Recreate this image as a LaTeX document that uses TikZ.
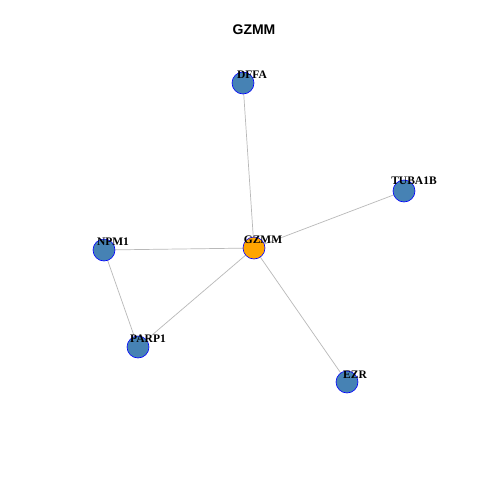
\documentclass[tikz,border=0pt]{standalone}
\usepackage{fontspec}
\setmainfont{Liberation Serif}
\newfontfamily\titlefont{Liberation Sans}
\definecolor{steel}{RGB}{70,130,180}
\definecolor{orng}{RGB}{255,165,0}
\definecolor{edgegray}{RGB}{185,185,185}
\begin{document}
\begin{tikzpicture}[x=1pt,y=-1pt,
  vert/.style={circle,draw=blue,fill=steel,minimum size=22pt,inner sep=0pt,line width=0.6pt},
  hub/.style={vert,fill=orng},
  lab/.style={font=\fontsize{11.5}{11.5}\selectfont\bfseries,inner sep=0pt},
  edge/.style={draw=edgegray,line width=0.7pt}]
\fill[white] (0,0) rectangle (480,480);
\useasboundingbox (0,0) rectangle (480,480);
\node[font=\titlefont\fontsize{14}{14}\selectfont\bfseries] (title) at (254,30) {GZMM};
\coordinate (cG) at (254,248);
\coordinate (cD) at (243,83);
\coordinate (cT) at (404,191);
\coordinate (cN) at (104,250);
\coordinate (cP) at (138,347);
\coordinate (cE) at (347,382);
\draw[edge] (cG) -- (cD);
\draw[edge] (cG) -- (cT);
\draw[edge] (cG) -- (cN);
\draw[edge] (cG) -- (cP);
\draw[edge] (cG) -- (cE);
\draw[edge] (cN) -- (cP);
\node[hub] (G) at (cG) {};
\node[vert] (D) at (cD) {};
\node[vert] (T) at (cT) {};
\node[vert] (N) at (cN) {};
\node[vert] (P) at (cP) {};
\node[vert] (E) at (cE) {};
\node[lab] (lG) at (263,240) {GZMM};
\node[lab] (lD) at (252,75) {DFFA};
\node[lab] (lT) at (414,181) {TUBA1B};
\node[lab] (lN) at (113,242) {NPM1};
\node[lab] (lP) at (148,339) {PARP1};
\node[lab] (lE) at (355,375) {EZR};
\end{tikzpicture}
\end{document}
